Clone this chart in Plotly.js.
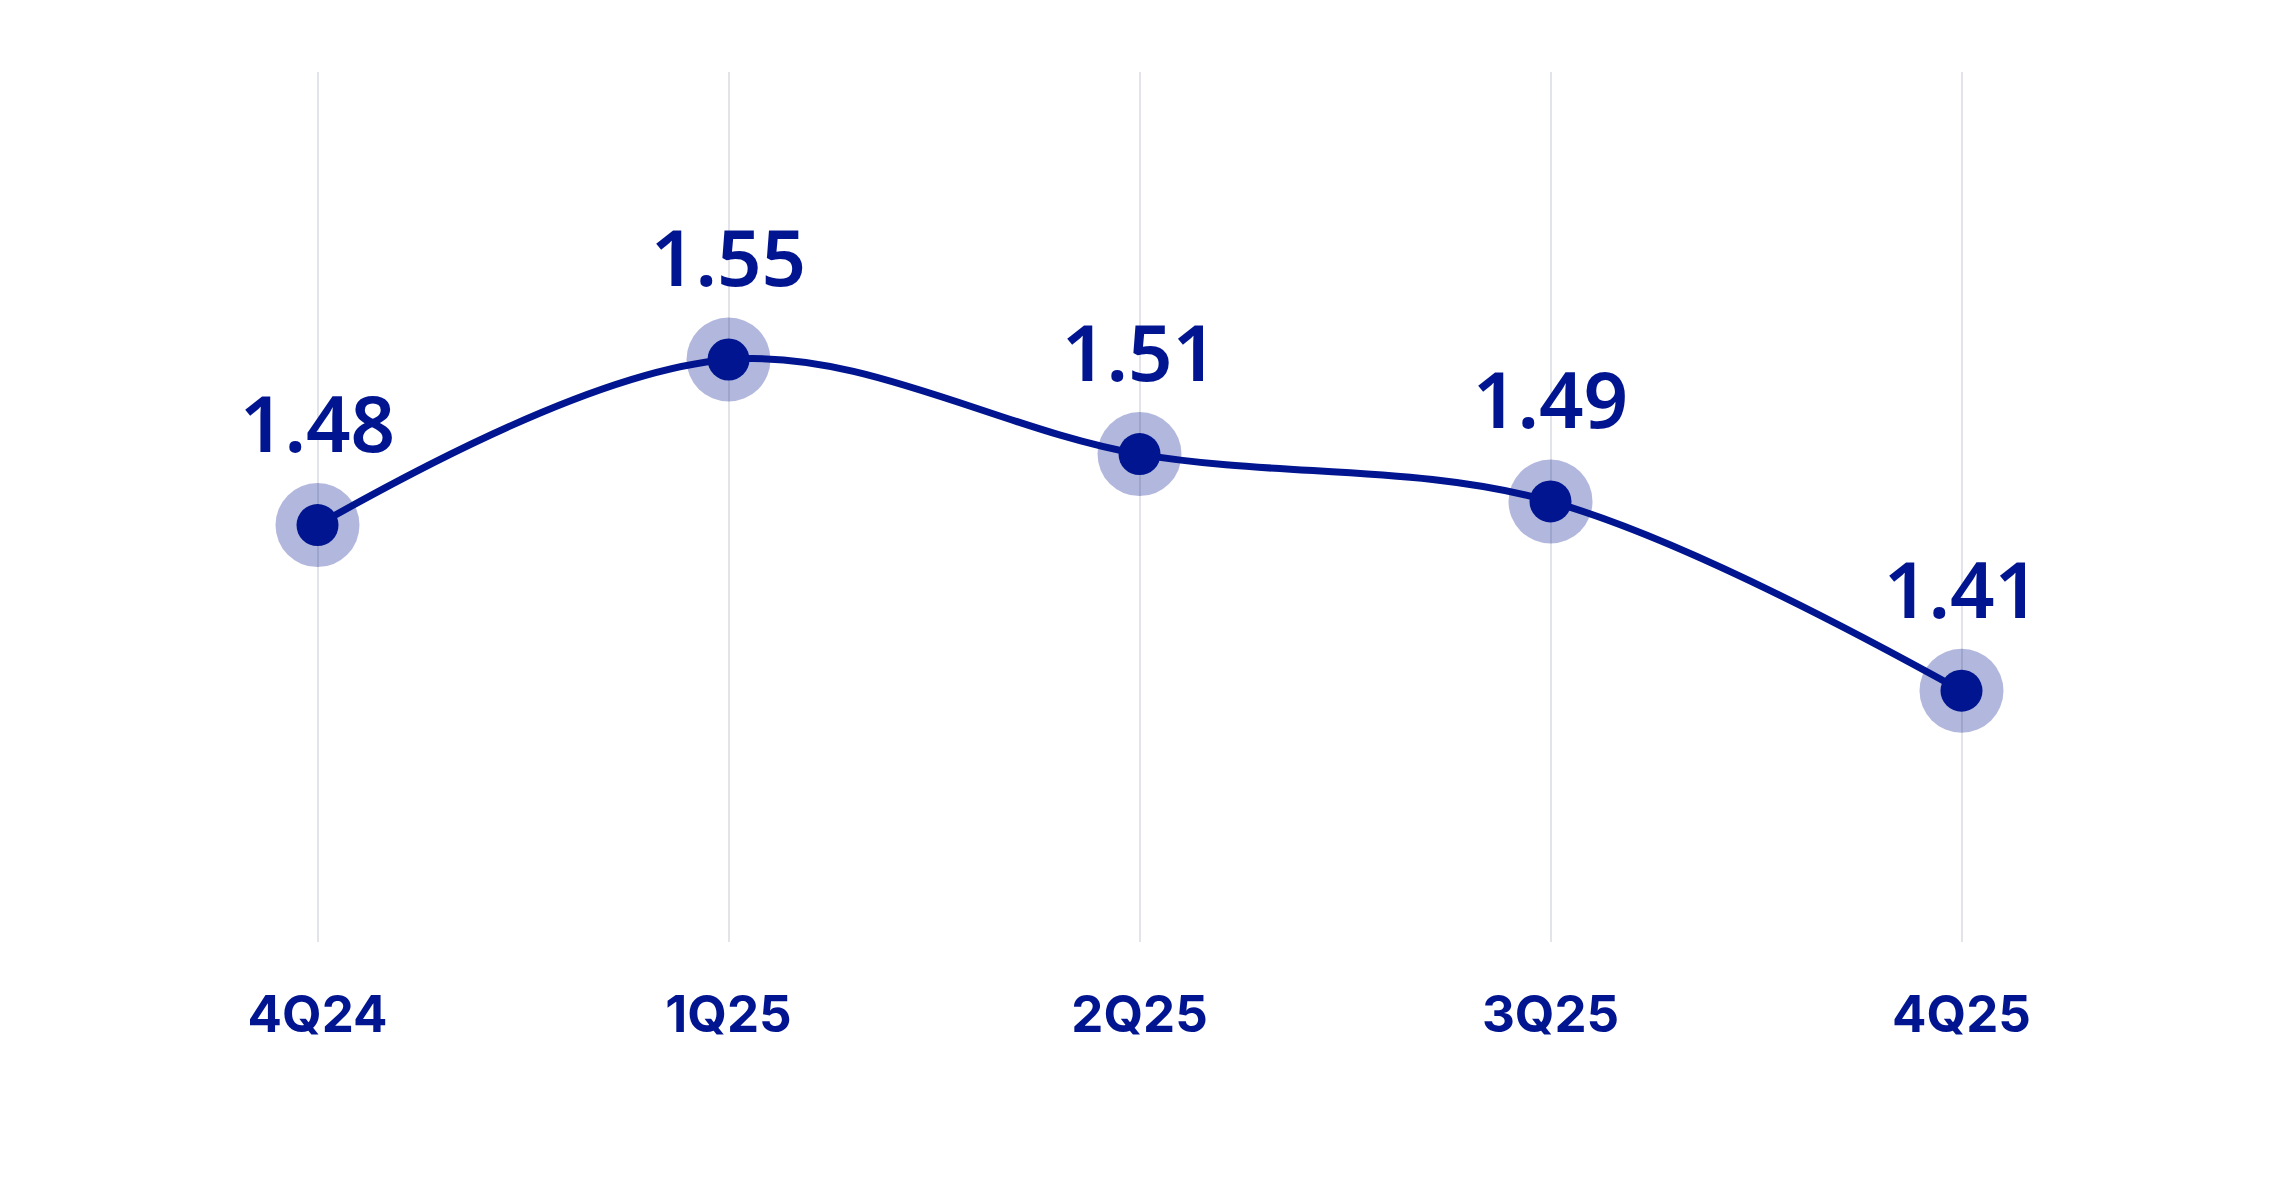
<!DOCTYPE html>
<html>
<head>
<meta charset="utf-8">
<script src="https://cdn.plot.ly/plotly-3.0.1.min.js"></script>
<style>html,body{margin:0;padding:0;background:#fff;}#chart{width:2293px;height:1189px;}</style>
</head>
<body>
<div id="chart"></div>
<script>
const categories = ["4Q24", "1Q25", "2Q25", "3Q25", "4Q25"];
const values = [1.48, 1.55, 1.51, 1.49, 1.41];
const valueLabels = ["1.48", "1.55", "1.51", "1.49", "1.41"];

const navy = "#00158f";

const traces = [
  {
    x: categories, y: values, type: "scatter", mode: "lines",
    line: {color: navy, width: 7, shape: "spline", smoothing: 1},
    hoverinfo: "skip", showlegend: false
  },
  {
    x: categories, y: values, type: "scatter", mode: "markers+text",
    marker: {size: 84, color: "rgba(0,21,143,0.3)", line: {width: 0}},
    text: valueLabels, textposition: "top center",
    textfont: {family: "Noto Sans, sans-serif", size: 78, color: navy, weight: 600},
    hoverinfo: "skip", showlegend: false
  },
  {
    x: categories, y: values, type: "scatter", mode: "markers",
    marker: {size: 42, color: navy, line: {width: 0}},
    hoverinfo: "skip", showlegend: false
  }
];

const layout = {
  width: 2293, height: 1189,
  paper_bgcolor: "#ffffff", plot_bgcolor: "#ffffff",
  margin: {l: 112, r: 126, t: 72, b: 247},
  xaxis: {
    type: "category", range: [-0.5, 4.5],
    showgrid: true, gridcolor: "#e2e4e9", gridwidth: 2,
    zeroline: false, showline: false, ticks: "",
    ticklabelstandoff: 38,
    tickfont: {family: "Inter, sans-serif", size: 51, color: navy, weight: "bold"}
  },
  yaxis: {
    range: [1.3038, 1.6715],
    showgrid: false, zeroline: false, showline: false, showticklabels: false, ticks: ""
  }
};

Plotly.newPlot("chart", traces, layout, {staticPlot: true});
</script>
</body>
</html>
